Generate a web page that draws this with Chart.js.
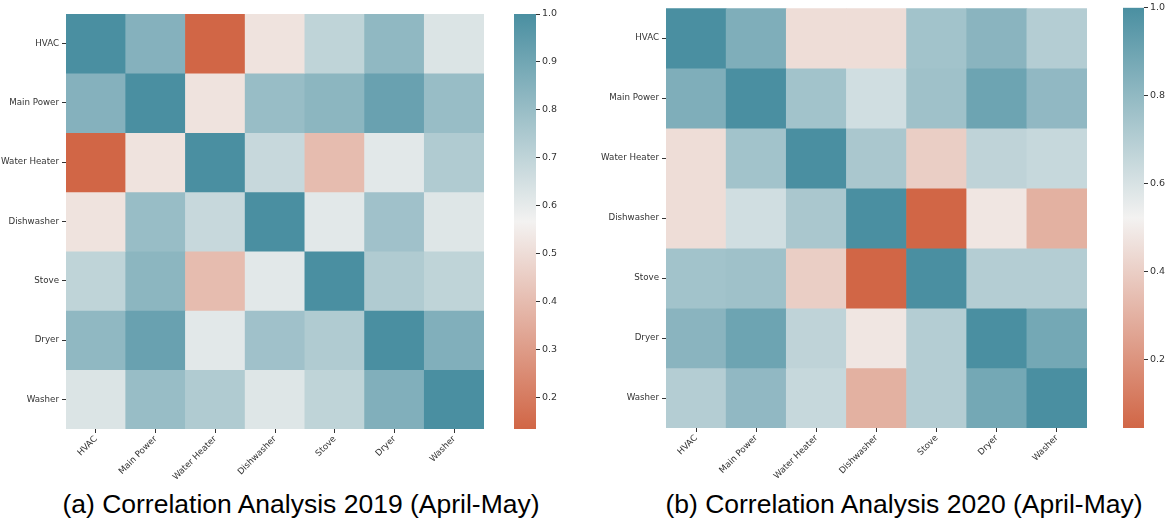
<!DOCTYPE html>
<html><head><meta charset="utf-8">
<script src="https://cdn.jsdelivr.net/npm/chart.js@4.4.1/dist/chart.umd.min.js"></script>
<style>
body{margin:0;background:#fff;width:1167px;height:524px;position:relative;overflow:hidden;}
.box{position:absolute;}
.title{position:absolute;font-family:"Liberation Sans",Arial,sans-serif;font-size:26.5px;line-height:30px;color:#000;white-space:nowrap;transform:translateX(-50%);top:489px;}
</style></head><body>
<div class="box" style="left:0;top:0"><canvas id="h1" width="490" height="480"></canvas></div>
<div class="box" style="left:505px;top:0"><canvas id="c1" width="60" height="440"></canvas></div>
<div class="box" style="left:590px;top:0"><canvas id="h2" width="505" height="480"></canvas></div>
<div class="box" style="left:1112px;top:0"><canvas id="c2" width="55" height="440"></canvas></div>
<div class="title" style="left:301px">(a) Correlation Analysis 2019 (April-May)</div>
<div class="title" style="left:904px">(b) Correlation Analysis 2020 (April-May)</div>
<script>
const appliances = ['HVAC','Main Power','Water Heater','Dishwasher','Stove','Dryer','Washer'];

const corr2019 = [
  [1.00, 0.85, 0.135, 0.52, 0.70, 0.82, 0.63],
  [0.85, 1.00, 0.52, 0.80, 0.83, 0.92, 0.80],
  [0.135, 0.52, 1.00, 0.68, 0.40, 0.61, 0.74],
  [0.52, 0.80, 0.68, 1.00, 0.61, 0.78, 0.62],
  [0.70, 0.83, 0.40, 0.61, 1.00, 0.74, 0.70],
  [0.82, 0.92, 0.61, 0.78, 0.74, 1.00, 0.86],
  [0.63, 0.80, 0.74, 0.62, 0.70, 0.86, 1.00]
];
const corr2020 = [
  [1.00, 0.85, 0.45, 0.45, 0.75, 0.82, 0.70],
  [0.85, 1.00, 0.75, 0.62, 0.76, 0.90, 0.80],
  [0.45, 0.75, 1.00, 0.73, 0.40, 0.67, 0.65],
  [0.45, 0.62, 0.73, 1.00, 0.045, 0.48, 0.30],
  [0.75, 0.76, 0.40, 0.045, 1.00, 0.70, 0.70],
  [0.82, 0.90, 0.67, 0.48, 0.70, 1.00, 0.88],
  [0.70, 0.80, 0.65, 0.30, 0.70, 0.88, 1.00]
];
const ticks2019 = [0.2, 0.3, 0.4, 0.5, 0.6, 0.7, 0.8, 0.9, 1.0];
const ticks2020 = [0.2, 0.4, 0.6, 0.8, 1.0];

const LOW = [209, 102, 70], MID = [243, 242, 241], HIGH = [74, 143, 161];
function mix(a, b, t) { return a.map((x, i) => Math.round(x + (b[i] - x) * t)); }
function cmap(v, vmin, vmax) {
  const t = Math.max(0, Math.min(1, (v - vmin) / (vmax - vmin)));
  const c = t < 0.5 ? mix(LOW, MID, t / 0.5) : mix(MID, HIGH, (t - 0.5) / 0.5);
  return `rgb(${c[0]},${c[1]},${c[2]})`;
}

Chart.defaults.font.family = '"DejaVu Sans", sans-serif';
Chart.defaults.font.size = 8.7;
Chart.defaults.color = '#333';

function heatmap(id, matrix, yWidth, xHeight, pad) {
  const flat = matrix.flat();
  const vmin = Math.min(...flat), vmax = Math.max(...flat);
  const datasets = matrix.map((row, r) => ({
    label: appliances[r],
    data: row.map(() => [r, r + 1]),
    backgroundColor: row.map(v => cmap(v, vmin, vmax)),
    borderWidth: 0, grouped: false, barPercentage: 1, categoryPercentage: 1
  }));
  new Chart(document.getElementById(id), {
    type: 'bar',
    data: { labels: appliances, datasets },
    options: {
      responsive: false, animation: false,
      layout: { padding: pad },
      plugins: { legend: { display: false }, tooltip: { enabled: false } },
      scales: {
        x: {
          afterFit: s => { s.height = xHeight; },
          grid: { offset: false, drawOnChartArea: false, tickLength: 4, tickColor: '#333' },
          border: { display: false },
          ticks: { minRotation: 45, maxRotation: 45, padding: 1, autoSkip: false }
        },
        y: {
          type: 'linear', min: 0, max: appliances.length, reverse: true,
          afterFit: s => { s.width = yWidth; },
          afterBuildTicks: s => { s.ticks = appliances.map((_, i) => ({ value: i + 0.5 })); },
          grid: { drawOnChartArea: false, tickLength: 4, tickColor: '#333' },
          border: { display: false },
          ticks: { callback: (v, i) => appliances[i], padding: 3 }
        }
      }
    }
  });
  return [vmin, vmax];
}

function colorbar(id, range, ticks, yWidth, pad) {
  const [vmin, vmax] = range;
  new Chart(document.getElementById(id), {
    type: 'bar',
    data: { labels: [''], datasets: [{
      data: [[vmin, vmax]],
      backgroundColor: c => {
        const ch = c.chart; if (!ch.chartArea) return null;
        const y = ch.scales.y;
        const g = ch.ctx.createLinearGradient(0, y.getPixelForValue(vmin), 0, y.getPixelForValue(vmax));
        g.addColorStop(0, cmap(vmin, vmin, vmax));
        g.addColorStop(0.25, cmap(vmin + (vmax - vmin) * 0.25, vmin, vmax));
        g.addColorStop(0.5, cmap((vmin + vmax) / 2, vmin, vmax));
        g.addColorStop(0.75, cmap(vmin + (vmax - vmin) * 0.75, vmin, vmax));
        g.addColorStop(1, cmap(vmax, vmin, vmax));
        return g;
      },
      borderWidth: 0, barPercentage: 1, categoryPercentage: 1
    }] },
    options: {
      responsive: false, animation: false,
      layout: { padding: pad },
      plugins: { legend: { display: false }, tooltip: { enabled: false } },
      scales: {
        x: { display: false },
        y: {
          position: 'right', min: vmin, max: vmax,
          afterFit: s => { s.width = yWidth; },
          afterBuildTicks: s => { s.ticks = ticks.map(v => ({ value: v })); },
          grid: { drawOnChartArea: false, tickLength: 4, tickColor: '#333' },
          border: { display: false },
          ticks: { callback: v => v.toFixed(1), padding: 2, font: { size: 9.5 } }
        }
      }
    }
  });
}

const r1 = heatmap('h1', corr2019, 66, 51, { top: 14, right: 6 });
colorbar('c1', r1, ticks2019, 29, { left: 9, top: 14, bottom: 11 });
const r2 = heatmap('h2', corr2020, 76, 52, { top: 6, right: 8 });
colorbar('c2', r2, ticks2020, 23, { left: 11, top: 6, bottom: 12 });
</script>
</body></html>
